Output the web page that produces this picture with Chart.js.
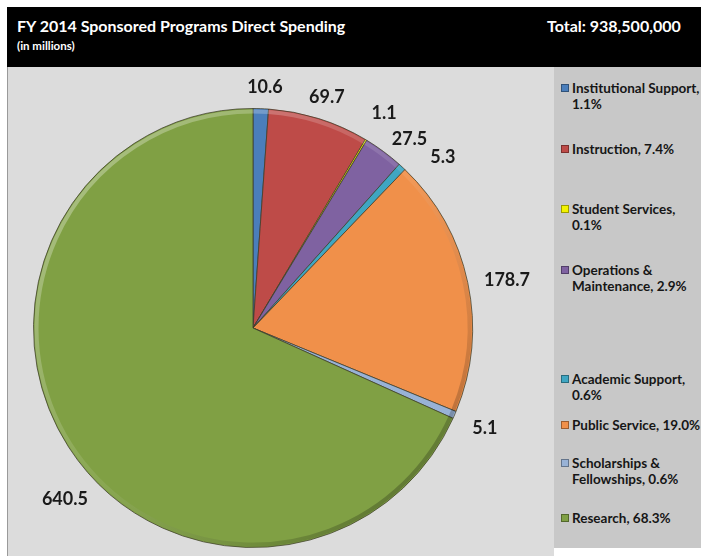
<!DOCTYPE html>
<html>
<head>
<meta charset="utf-8">
<script src="https://cdn.jsdelivr.net/npm/chart.js@4/dist/chart.umd.min.js"></script>
<style>
  body { margin: 0; background: #fff; }
  #frame { position: relative; width: 701px; height: 556px; overflow: hidden; font-family: Lato, "Open Sans", sans-serif; }
  #header { position: absolute; left: 7px; top: 7px; width: 694px; height: 60px; background: #000; color: #fff; }
  #title { position: absolute; left: 10px; top: 9px; font-weight: bold; font-size: 16px; }
  #subtitle { position: absolute; left: 10px; top: 32px; font-weight: bold; font-size: 11.5px; }
  #total { position: absolute; left: 540px; top: 9px; font-weight: bold; font-size: 16px; }
  #plot { position: absolute; left: 7px; top: 67px; width: 547px; height: 489px; background: #dcdcdc; border-left: 1px solid #9a9a9a; box-sizing: border-box; }
  #chartBox { position: absolute; left: 7px; top: 67px; width: 547px; height: 489px; }
  #legend { position: absolute; left: 554px; top: 67px; width: 147px; height: 481px; background: #c8c8c8; }
  .item { position: absolute; left: 7px; padding-left: 11px; font-weight: bold; font-size: 13.5px; line-height: 16px; color: #161616; white-space: pre; }
  .swatch { position: absolute; left: 0; top: 4px; width: 6px; height: 6px; border: 1px solid rgba(0,0,0,0.35); }
</style>
</head>
<body>
<div id="frame">
  <div id="header">
    <div id="title">FY 2014 Sponsored Programs Direct Spending</div>
    <div id="subtitle">(in millions)</div>
    <div id="total">Total: 938,500,000</div>
  </div>
  <div id="plot"></div>
  <div id="chartBox"><canvas id="spendingChart" width="547" height="489"></canvas></div>
  <div id="legend"></div>
</div>
<script>
// spending by function, in millions, clockwise from 12 o'clock
const categories = [
  'Institutional Support', 'Instruction', 'Student Services', 'Operations & Maintenance',
  'Academic Support', 'Public Service', 'Scholarships & Fellowships', 'Research'
];
const spending = [10.6, 69.7, 1.1, 27.5, 5.3, 178.7, 5.1, 640.5];
const legendLabels = [
  'Institutional Support,\n1.1%',
  'Instruction, 7.4%',
  'Student Services,\n0.1%',
  'Operations &\nMaintenance, 2.9%',
  'Academic Support,\n0.6%',
  'Public Service, 19.0%',
  'Scholarships &\nFellowships, 0.6%',
  'Research, 68.3%'
];
const sliceColors = ['#4a7ebb', '#be4b48', '#f2f200', '#7f62a1', '#3fa6c2', '#f0904a', '#98b2d6', '#80a044'];

// legend rows sit at uneven heights in the side panel
const legendTops = [13, 74, 134, 195, 304, 350, 388, 443];

const legendEl = document.getElementById('legend');
legendLabels.forEach((text, i) => {
  const item = document.createElement('div');
  item.className = 'item';
  item.style.top = legendTops[i] + 'px';
  item.textContent = text;
  const sw = document.createElement('span');
  sw.className = 'swatch';
  sw.style.background = sliceColors[i];
  item.appendChild(sw);
  legendEl.appendChild(item);
});

// rim highlight / shadow so the slices look bevelled
const bevel = {
  id: 'bevel',
  afterDatasetsDraw(chart) {
    const ctx = chart.ctx;
    chart.getDatasetMeta(0).data.forEach(arc => {
      const { x, y, startAngle, endAngle, outerRadius: r } = arc;
      const g = ctx.createLinearGradient(x - r, y - r, x + r, y + r);
      g.addColorStop(0, 'rgba(255,255,255,0.4)');
      g.addColorStop(0.5, 'rgba(255,255,255,0.08)');
      g.addColorStop(0.75, 'rgba(0,0,0,0.12)');
      g.addColorStop(1, 'rgba(0,0,0,0.4)');
      ctx.save();
      ctx.beginPath();
      ctx.arc(x, y, r - 3, startAngle, endAngle);
      ctx.lineWidth = 4;
      ctx.strokeStyle = g;
      ctx.stroke();
      ctx.restore();
    });
  }
};

// value labels outside each slice
const valueLabels = {
  id: 'valueLabels',
  afterDatasetsDraw(chart, args, opts) {
    const ctx = chart.ctx;
    ctx.save();
    ctx.font = opts.font;
    ctx.fillStyle = opts.color;
    ctx.textAlign = 'center';
    ctx.textBaseline = 'middle';
    chart.getDatasetMeta(0).data.forEach((arc, i) => {
      const mid = (arc.startAngle + arc.endAngle) / 2 + opts.angleShift[i] * Math.PI / 180;
      const r = arc.outerRadius + opts.gap[i];
      ctx.fillText(spending[i].toFixed(1), arc.x + Math.cos(mid) * r, arc.y + Math.sin(mid) * r);
    });
    ctx.restore();
  }
};

new Chart(document.getElementById('spendingChart'), {
  type: 'pie',
  data: {
    labels: categories,
    datasets: [{
      data: spending,
      backgroundColor: sliceColors,
      borderColor: 'rgba(60,60,40,0.75)',
      borderWidth: 1
    }]
  },
  options: {
    responsive: false,
    animation: false,
    devicePixelRatio: 1,
    layout: { padding: { left: 26, right: 81, top: 41, bottom: 8 } },
    plugins: {
      legend: { display: false },
      tooltip: { enabled: false },
      valueLabels: {
        font: 'bold 18px Lato, "Open Sans", sans-serif',
        color: '#1a1a1a',
        angleShift: [0.8, 0.3, 0.4, 3.1, 5.2, 1.2, 0, -9.5],
        gap: [22, 23, 32, 26, 36, 39, 33, 35]
      }
    }
  },
  plugins: [bevel, valueLabels]
});
</script>
</body>
</html>
